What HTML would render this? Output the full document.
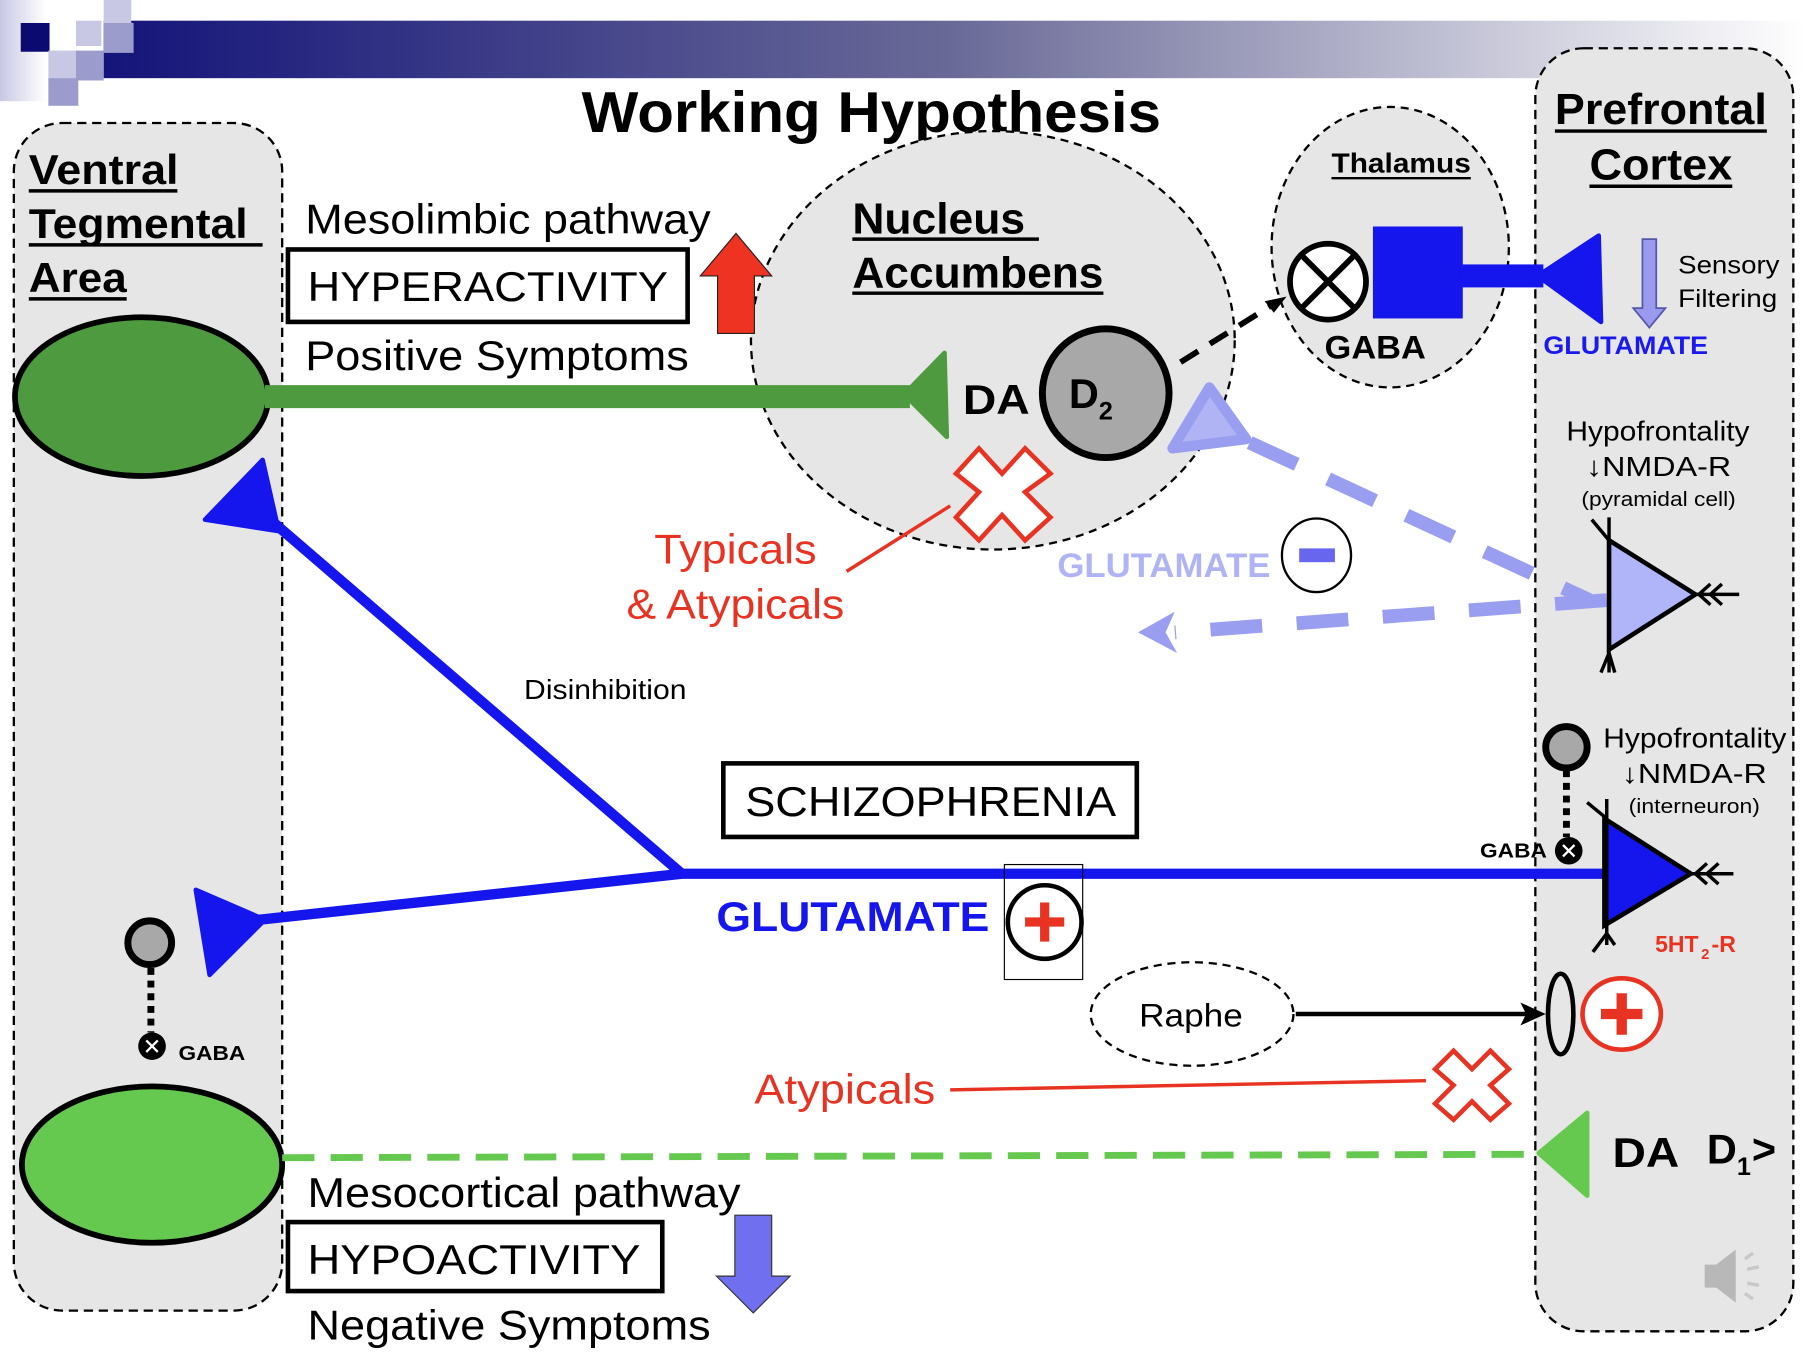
<!DOCTYPE html>
<html><head><meta charset="utf-8"><style>
html,body{margin:0;padding:0;background:#fff;}
svg{display:block;font-family:"Liberation Sans",Arial,sans-serif;}
</style></head><body>
<svg width="1806" height="1352" viewBox="0 0 1568 1176" preserveAspectRatio="none" xmlns="http://www.w3.org/2000/svg">
<defs>
<linearGradient id="hdr" x1="0" x2="1" y1="0" y2="0">
<stop offset="0" stop-color="#14147a"/><stop offset="0.5" stop-color="#6a6a98"/><stop offset="1" stop-color="#ffffff"/>
</linearGradient>
<linearGradient id="lft" x1="0" x2="1"><stop offset="0" stop-color="#c8c8e4"/><stop offset="1" stop-color="#fff"/></linearGradient>
</defs>
<rect x="0" y="0" width="40" height="88" fill="url(#lft)"/>
<rect x="90" y="18" width="1478" height="50" fill="url(#hdr)"/>
<rect x="18" y="20" width="25" height="25" fill="#0a0a70"/>
<rect x="66" y="18" width="22" height="22" fill="#c8c8e4"/>
<rect x="90" y="0" width="24" height="22" fill="#c8c8e4"/>
<rect x="90" y="20" width="26" height="26" fill="#9c9ccc"/>
<rect x="42" y="44" width="26" height="26" fill="#c8c8e4"/>
<rect x="66" y="44" width="24" height="26" fill="#9c9ccc"/>
<rect x="42" y="68" width="26" height="24" fill="#9c9ccc"/>

<rect x="12" y="107" width="233" height="1033" rx="42" fill="#e6e6e6" stroke="#000" stroke-width="2" stroke-dasharray="8,5"/>
<rect x="1333" y="42" width="224" height="1116" rx="42" fill="#e6e6e6" stroke="#000" stroke-width="2" stroke-dasharray="8,5"/>

<text x="505" y="115" font-size="50" font-weight="bold" textLength="503" lengthAdjust="spacingAndGlyphs">Working Hypothesis</text>

<g font-size="36" font-weight="bold">
<text x="25" y="160" textLength="130" lengthAdjust="spacingAndGlyphs">Ventral</text>
<text x="25" y="207" textLength="190" lengthAdjust="spacingAndGlyphs">Tegmental</text>
<text x="25" y="254" textLength="85" lengthAdjust="spacingAndGlyphs">Area</text>
</g>
<g stroke="#000" stroke-width="3"><line x1="25" y1="166" x2="154" y2="166"/><line x1="25" y1="213" x2="228" y2="213"/><line x1="25" y1="260" x2="110" y2="260"/></g>

<ellipse cx="862" cy="296" rx="210" ry="182" fill="#e6e6e6" stroke="#000" stroke-width="2" stroke-dasharray="7,5"/>
<text x="740" y="203" font-size="38" font-weight="bold" textLength="150" lengthAdjust="spacingAndGlyphs">Nucleus</text>
<text x="740" y="250" font-size="38" font-weight="bold" textLength="218" lengthAdjust="spacingAndGlyphs">Accumbens</text>
<g stroke="#000" stroke-width="3"><line x1="740" y1="208" x2="902" y2="208"/><line x1="740" y1="255" x2="958" y2="255"/></g>

<ellipse cx="1207" cy="215" rx="103" ry="122" fill="#e6e6e6" stroke="#000" stroke-width="2" stroke-dasharray="7,5"/>
<text x="1156" y="150" font-size="24" font-weight="bold" textLength="121" lengthAdjust="spacingAndGlyphs">Thalamus</text>
<line x1="1156" y1="155" x2="1277" y2="155" stroke="#000" stroke-width="2"/>
<circle cx="1153" cy="245" r="33" fill="#fff" stroke="#000" stroke-width="5"/>
<path d="M1130 222 L1176 268 M1176 222 L1130 268" stroke="#000" stroke-width="5"/>
<rect x="1192" y="197" width="78" height="80" fill="#1515ee"/>
<rect x="1268" y="230" width="72" height="20" fill="#1515ee"/>
<path d="M1335 240 L1388 205 L1390 280 Z" fill="#1515ee" stroke="#1515ee" stroke-width="4" stroke-linejoin="round"/>
<text x="1150" y="312" font-size="28" font-weight="bold" textLength="88" lengthAdjust="spacingAndGlyphs">GABA</text>
<path d="M1426 208 H1438 V268 H1446 L1432 285 L1418 268 H1426 Z" fill="#9999ee" stroke="#5555aa" stroke-width="1.5"/>
<text x="1457" y="238" font-size="22" textLength="88" lengthAdjust="spacingAndGlyphs">Sensory</text>
<text x="1457" y="267" font-size="22" textLength="86" lengthAdjust="spacingAndGlyphs">Filtering</text>
<text x="1340" y="308" font-size="22" font-weight="bold" fill="#1a1aee" textLength="143" lengthAdjust="spacingAndGlyphs">GLUTAMATE</text>

<text x="1350" y="108" font-size="38" font-weight="bold" textLength="184" lengthAdjust="spacingAndGlyphs">Prefrontal</text>
<text x="1380" y="156" font-size="38" font-weight="bold" textLength="124" lengthAdjust="spacingAndGlyphs">Cortex</text>
<g stroke="#000" stroke-width="3"><line x1="1350" y1="114" x2="1534" y2="114"/><line x1="1380" y1="162" x2="1504" y2="162"/></g>

<text x="265" y="203" font-size="36" textLength="352" lengthAdjust="spacingAndGlyphs">Mesolimbic pathway</text>
<rect x="250" y="217" width="347" height="63" fill="#fff" stroke="#000" stroke-width="4"/>
<text x="267" y="262" font-size="36" textLength="313" lengthAdjust="spacingAndGlyphs">HYPERACTIVITY</text>
<text x="265" y="322" font-size="36" textLength="333" lengthAdjust="spacingAndGlyphs">Positive Symptoms</text>
<path d="M623 290 V240 H608 L639 203 L670 240 H655 V290 Z" fill="#ee3322" stroke="#222" stroke-width="1"/>

<ellipse cx="123" cy="345" rx="110" ry="69" fill="#4e9a3e" stroke="#000" stroke-width="5"/>
<rect x="230" y="335" width="560" height="20" fill="#4e9a3e"/>
<path d="M785 343 L820 307 L822 380 Z" fill="#4e9a3e" stroke="#4e9a3e" stroke-width="4" stroke-linejoin="round"/>
<text x="836" y="360" font-size="36" font-weight="bold" textLength="58" lengthAdjust="spacingAndGlyphs">DA</text>
<ellipse cx="960" cy="342" rx="55" ry="56" fill="#a8a8a8" stroke="#000" stroke-width="6"/>
<text x="928" y="355" font-size="36" font-weight="bold">D</text>
<text x="954" y="365" font-size="22" font-weight="bold">2</text>
<line x1="1025" y1="315" x2="1105" y2="265" stroke="#000" stroke-width="5" stroke-dasharray="18,12"/>
<path d="M1117 258 L1098 262 L1106 272 Z" fill="#000"/>

<path d="M1018 390 L1050 337 L1082 382 Z" fill="#b0b4f4" stroke="#9a9ef0" stroke-width="9" stroke-linejoin="round"/>
<line x1="1085" y1="385" x2="1380" y2="522" stroke="#9a9ef0" stroke-width="12" stroke-dasharray="45,30"/>
<line x1="1395" y1="522" x2="1020" y2="550" stroke="#9a9ef0" stroke-width="12" stroke-dasharray="45,30"/>
<path d="M988 550 L1020 532 L1012 550 L1022 568 Z" fill="#9a9ef0"/>
<text x="918" y="502" font-size="30" font-weight="bold" fill="#b0b4f4" textLength="185" lengthAdjust="spacingAndGlyphs">GLUTAMATE</text>
<ellipse cx="1143" cy="483" rx="30" ry="32" fill="#fff" stroke="#000" stroke-width="2"/>
<rect x="1128" y="477" width="31" height="12" fill="#6666ee"/>

<path d="M850 390 L870 412 L890 390 L912 412 L890 428 L912 450 L890 470 L870 448 L850 470 L830 450 L850 428 L830 412 Z" fill="#fff" stroke="#e83322" stroke-width="4"/>
<line x1="825" y1="440" x2="735" y2="497" stroke="#e83322" stroke-width="3"/>
<text x="568" y="490" font-size="36" fill="#e83322" textLength="141" lengthAdjust="spacingAndGlyphs">Typicals</text>
<text x="544" y="538" font-size="36" fill="#e83322" textLength="189" lengthAdjust="spacingAndGlyphs">&amp; Atypicals</text>

<text x="1360" y="383" font-size="24" textLength="159" lengthAdjust="spacingAndGlyphs">Hypofrontality</text>
<text x="1377" y="414" font-size="24" textLength="126" lengthAdjust="spacingAndGlyphs">↓NMDA-R</text>
<text x="1373" y="440" font-size="18" textLength="134" lengthAdjust="spacingAndGlyphs">(pyramidal cell)</text>
<path d="M1397 470 L1397 565 L1472 517 Z" fill="#b0b4f8" stroke="#000" stroke-width="4"/>
<path d="M1397 450 V585 M1382 452 L1397 470 M1390 585 L1397 568 L1402 585 M1472 517 H1510 M1485 508 L1475 517 L1485 526 M1495 508 L1485 517 L1495 526" stroke="#000" stroke-width="3" fill="none"/>

<text x="455" y="608" font-size="24" textLength="141" lengthAdjust="spacingAndGlyphs">Disinhibition</text>

<line x1="238" y1="455" x2="592" y2="760" stroke="#1515ee" stroke-width="9"/>
<line x1="590" y1="760" x2="1395" y2="760" stroke="#1515ee" stroke-width="9"/>
<line x1="592" y1="760" x2="225" y2="800" stroke="#1515ee" stroke-width="9"/>
<path d="M228 400 L242 462 L178 452 Z" fill="#1515ee" stroke="#1515ee" stroke-width="4" stroke-linejoin="round"/>
<path d="M170 774 L230 800 L182 848 Z" fill="#1515ee" stroke="#1515ee" stroke-width="4" stroke-linejoin="round"/>

<rect x="628" y="664" width="359" height="64" fill="#fff" stroke="#000" stroke-width="4"/>
<text x="647" y="710" font-size="36" textLength="322" lengthAdjust="spacingAndGlyphs">SCHIZOPHRENIA</text>
<text x="622" y="810" font-size="36" font-weight="bold" fill="#1515ee" textLength="237" lengthAdjust="spacingAndGlyphs">GLUTAMATE</text>
<rect x="872" y="752" width="68" height="100" fill="none" stroke="#000" stroke-width="1"/>
<circle cx="907" cy="802" r="32" fill="#fff" stroke="#000" stroke-width="4"/>
<path d="M890 802 H924 M907 785 V819" stroke="#e83322" stroke-width="8"/>

<circle cx="1360" cy="650" r="18" fill="#a8a8a8" stroke="#000" stroke-width="6"/>
<line x1="1360" y1="670" x2="1360" y2="728" stroke="#000" stroke-width="6" stroke-dasharray="6,5"/>
<circle cx="1362" cy="740" r="12" fill="#000"/>
<path d="M1357 735 L1367 745 M1367 735 L1357 745" stroke="#fff" stroke-width="2"/>
<text x="1285" y="746" font-size="18" font-weight="bold" textLength="58" lengthAdjust="spacingAndGlyphs">GABA</text>
<text x="1392" y="650" font-size="24" textLength="159" lengthAdjust="spacingAndGlyphs">Hypofrontality</text>
<text x="1408" y="681" font-size="24" textLength="126" lengthAdjust="spacingAndGlyphs">↓NMDA-R</text>
<text x="1414" y="707" font-size="18" textLength="114" lengthAdjust="spacingAndGlyphs">(interneuron)</text>
<path d="M1393 712 L1393 805 L1468 760 Z" fill="#1515ee" stroke="#000" stroke-width="4"/>
<path d="M1395 695 V822 M1378 698 L1395 712 M1383 828 L1395 812 M1395 812 L1402 822 M1468 760 H1505 M1482 751 L1472 760 L1482 769 M1492 751 L1482 760 L1492 769" stroke="#000" stroke-width="3" fill="none"/>
<text x="1437" y="828" font-size="20" font-weight="bold" fill="#e83322">5HT</text>
<text x="1477" y="834" font-size="13" font-weight="bold" fill="#e83322">2</text>
<text x="1486" y="828" font-size="20" font-weight="bold" fill="#e83322">-R</text>

<ellipse cx="1035" cy="882" rx="88" ry="45" fill="#fff" stroke="#000" stroke-width="2" stroke-dasharray="7,5"/>
<text x="989" y="893" font-size="28" textLength="90" lengthAdjust="spacingAndGlyphs">Raphe</text>
<line x1="1125" y1="882" x2="1332" y2="882" stroke="#000" stroke-width="4"/>
<path d="M1342 882 L1320 872 L1325 882 L1320 892 Z" fill="#000"/>
<ellipse cx="1355" cy="882" rx="11" ry="35" fill="none" stroke="#000" stroke-width="4"/>
<ellipse cx="1408" cy="882" rx="34" ry="31" fill="#fff" stroke="#e83322" stroke-width="4"/>
<path d="M1390 882 H1426 M1408 864 V900" stroke="#e83322" stroke-width="9"/>

<text x="655" y="960" font-size="36" fill="#e83322" textLength="157" lengthAdjust="spacingAndGlyphs">Atypicals</text>
<line x1="825" y1="948" x2="1238" y2="940" stroke="#e83322" stroke-width="3"/>
<path d="M1262 914 L1278 930 L1294 914 L1310 930 L1294 944 L1310 960 L1294 974 L1278 958 L1262 974 L1246 960 L1262 944 L1246 930 Z" fill="#fff" stroke="#e83322" stroke-width="4"/>

<circle cx="130" cy="820" r="19" fill="#a8a8a8" stroke="#000" stroke-width="6"/>
<line x1="131" y1="842" x2="131" y2="898" stroke="#000" stroke-width="6" stroke-dasharray="6,5"/>
<circle cx="132" cy="910" r="12" fill="#000"/>
<path d="M127 905 L137 915 M137 905 L127 915" stroke="#fff" stroke-width="2"/>
<text x="155" y="922" font-size="18" font-weight="bold" textLength="58" lengthAdjust="spacingAndGlyphs">GABA</text>

<ellipse cx="132" cy="1013" rx="113" ry="68" fill="#66c94f" stroke="#000" stroke-width="5"/>
<line x1="245" y1="1007" x2="1335" y2="1004" stroke="#66c94f" stroke-width="6" stroke-dasharray="28,14"/>
<path d="M1336 1003 L1378 968 L1378 1040 Z" fill="#66c94f" stroke="#66c94f" stroke-width="4" stroke-linejoin="round"/>
<text x="1400" y="1015" font-size="36" font-weight="bold" textLength="58" lengthAdjust="spacingAndGlyphs">DA</text>
<text x="1482" y="1012" font-size="36" font-weight="bold">D</text>
<text x="1508" y="1022" font-size="22" font-weight="bold">1</text>
<text x="1521" y="1012" font-size="36" font-weight="bold">&gt;</text>

<text x="267" y="1050" font-size="36" textLength="376" lengthAdjust="spacingAndGlyphs">Mesocortical pathway</text>
<rect x="250" y="1063" width="325" height="60" fill="#fff" stroke="#000" stroke-width="4"/>
<text x="267" y="1108" font-size="36" textLength="289" lengthAdjust="spacingAndGlyphs">HYPOACTIVITY</text>
<text x="267" y="1165" font-size="36" textLength="350" lengthAdjust="spacingAndGlyphs">Negative Symptoms</text>
<path d="M638 1057 H670 V1110 H686 L654 1142 L622 1110 H638 Z" fill="#6f6ff0" stroke="#333" stroke-width="1"/>

<path d="M1480 1100 H1490 L1507 1087 V1133 L1490 1120 H1480 Z" fill="#b8b8b8"/>
<path d="M1515 1095 L1522 1090 M1517 1104 L1527 1102 M1517 1116 L1527 1118 M1515 1125 L1522 1130" stroke="#c8c8c8" stroke-width="3"/>
</svg>
</body></html>
